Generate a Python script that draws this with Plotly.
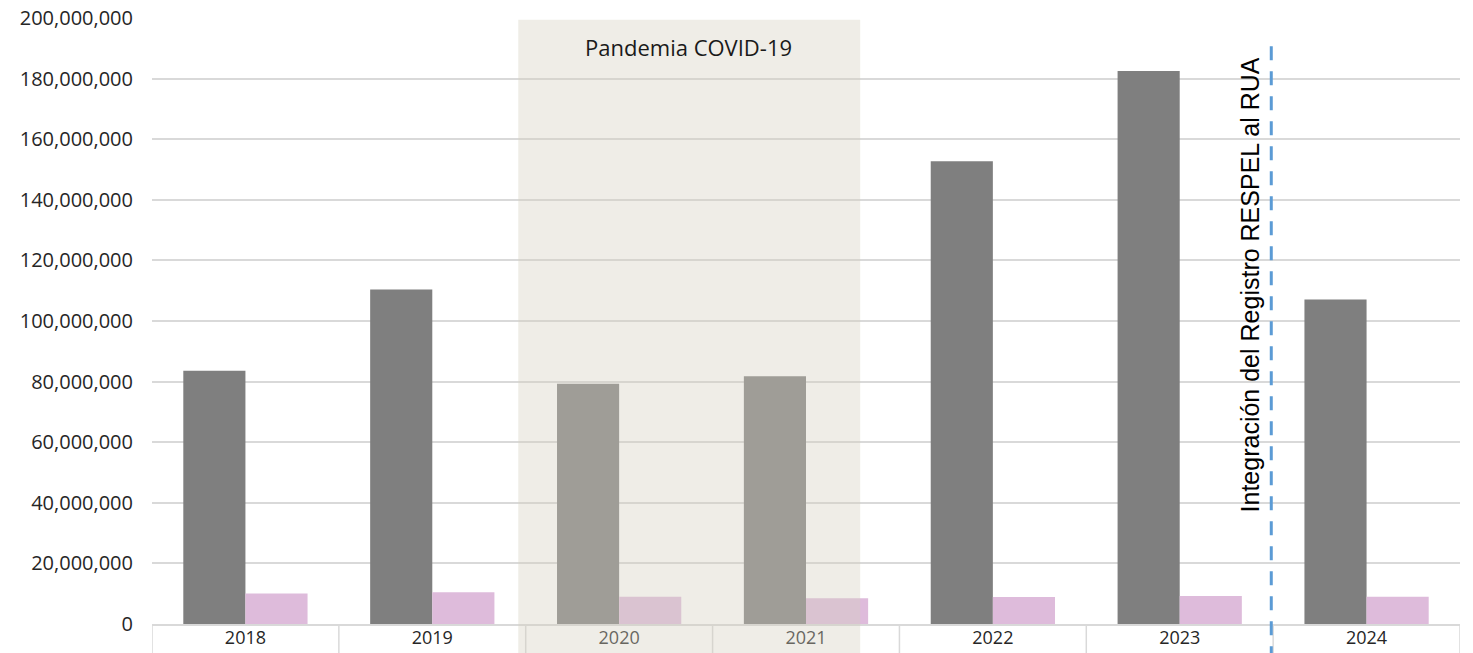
import plotly.graph_objects as go

# Annual totals per year
years = ["2018", "2019", "2020", "2021", "2022", "2023", "2024"]
serie_gris = [83_600_000, 110_400_000, 79_300_000, 81_800_000, 152_700_000, 182_500_000, 107_100_000]
serie_rosa = [10_100_000, 10_500_000, 9_000_000, 8_500_000, 8_900_000, 9_200_000, 9_000_000]
y_ticks = list(range(0, 200_000_001, 20_000_000))

FONT = "Open Sans"
GRID = "#D9D9D9"

fig = go.Figure()
fig.add_trace(go.Bar(x=list(range(len(years))), y=serie_gris, marker_color="#7F7F7F",
                     marker_line_width=0, name="serie 1"))
fig.add_trace(go.Bar(x=list(range(len(years))), y=serie_rosa, marker_color="#DEBBDB",
                     marker_line_width=0, name="serie 2"))

shapes = []
# category cell borders below the axis
for i in range(len(years) + 1):
    shapes.append(dict(type="line", xref="x", yref="paper", x0=i - 0.5, x1=i - 0.5,
                       y0=0, y1=-0.05, line=dict(color=GRID, width=1.5), layer="below"))
# pandemic period band
shapes.append(dict(type="rect", xref="x", yref="paper", x0=1.46, x1=3.29,
                   y0=-0.06, y1=0.997, fillcolor="rgba(214,208,192,0.38)",
                   line=dict(width=0), layer="above"))
# integration marker
shapes.append(dict(type="line", xref="x", yref="paper", x0=5.49, x1=5.49,
                   y0=-0.06, y1=0.968, line=dict(color="#5B9BD5", width=3, dash="14px,11px"),
                   layer="above"))

fig.update_layout(
    width=1473, height=653,
    margin=dict(l=152, r=13, t=18, b=29),
    paper_bgcolor="white", plot_bgcolor="white",
    barmode="group", bargap=0.335, bargroupgap=0,
    showlegend=False,
    font=dict(family=FONT, size=20, color="#262626"),
    shapes=shapes,
    annotations=[
        dict(text="Pandemia COVID-19", x=2.37, y=190_300_000, xref="x", yref="y",
             showarrow=False, font=dict(family=FONT, size=22, color="#1a1a1a")),
        dict(text="Integración del Registro RESPEL al RUA", x=5.375, y=0.56,
             xref="x", yref="paper", textangle=-90, showarrow=False,
             font=dict(family="Liberation Sans, Arial", size=25, color="black")),
    ],
)
fig.update_xaxes(
    range=[-0.5, len(years) - 0.5],
    tickvals=list(range(len(years))), ticktext=years,
    tickfont=dict(size=18),
    showgrid=False, showline=True, linecolor=GRID, linewidth=1.5,
    ticks="", ticklabelstandoff=-3, zeroline=False, automargin=False,
)
fig.update_yaxes(
    range=[0, 200_000_000], tickvals=y_ticks, tickformat=",d",
    showgrid=True, gridcolor=GRID, gridwidth=1.5,
    showline=False, zeroline=False, ticks="", ticklabelstandoff=18, automargin=False,
)

fig.write_html("out.html")
